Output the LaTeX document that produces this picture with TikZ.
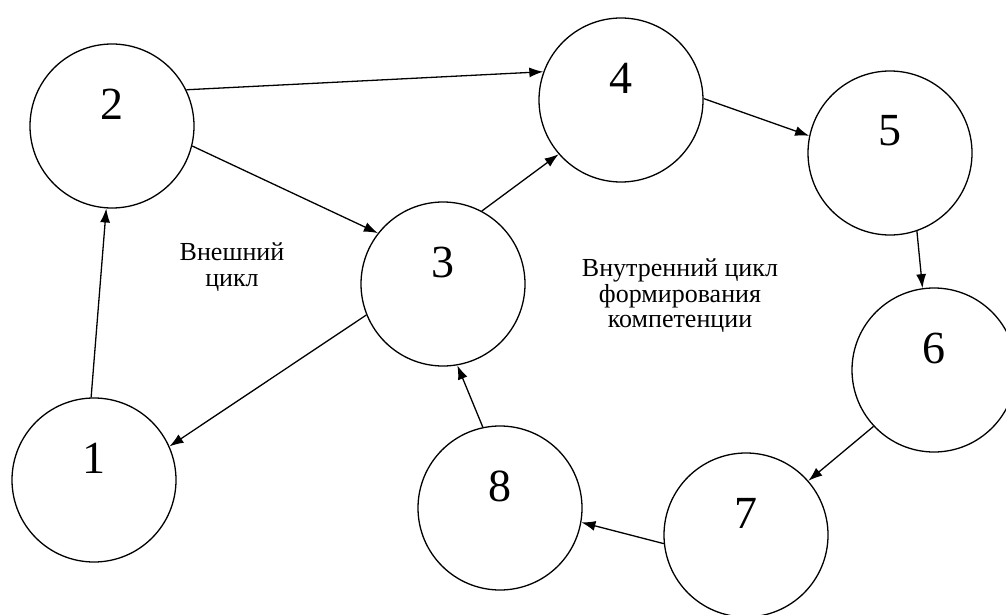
\documentclass[tikz,border=0pt]{standalone}
\usepackage{fontspec}
\setmainfont{Liberation Serif}
\usetikzlibrary{arrows.meta}

\tikzset{
	stage/.style = {circle, draw, line width = 1.3pt, minimum size = 164pt, inner sep = 0pt,
		label = {[font = \fontsize{46}{46}\selectfont, yshift = 22pt]center:#1}},
	caption/.style = {align = center, font = \fontsize{26}{25.5}\selectfont}
}

\begin{document}
\begin{tikzpicture}[x = 1pt, y = -1pt, > = {Latex[length = 14pt, width = 10pt]}]

	\useasboundingbox (0, 0) rectangle (1006, 615);

	% Stages of the cycle
	
	\node [stage = 1] (n1) at (94, 480) {};
	\node [stage = 2] (n2) at (112, 126) {};
	\node [stage = 3] (n3) at (443, 284) {};
	\node [stage = 4] (n4) at (621, 100) {};
	\node [stage = 5] (n5) at (890, 153) {};
	\node [stage = 6] (n6) at (934, 370) {};
	\node [stage = 7] (n7) at (746, 535) {};
	\node [stage = 8] (n8) at (500, 508) {};
	
	% Transitions
	
	\begin{scope}[->, line width = 1.3pt]
	
		\draw (n1.92) -- (n2.266);
		\draw (n2.26) -- (n4.160);
		\draw (n2.346) -- (n3.142);
		\draw (n3.202) -- (n1.24);
		
		\draw (n3.62) -- (n4.221);
		\draw (n4.1) -- (n5.168);
		\draw (n5.289) -- (n6.98);
		\draw (n6.223) -- (n7.41);
		\draw (n7.186) -- (n8.350);
		\draw (n8.102) -- (n3.280);

	\end{scope}
	
	% Names of the two cycles
	
	\node [caption] (outer) at (232, 267) {Внешний\\цикл};
	\node [caption] (inner) at (680, 296) {Внутренний цикл\\формирования\\компетенции};

\end{tikzpicture}
\end{document}
